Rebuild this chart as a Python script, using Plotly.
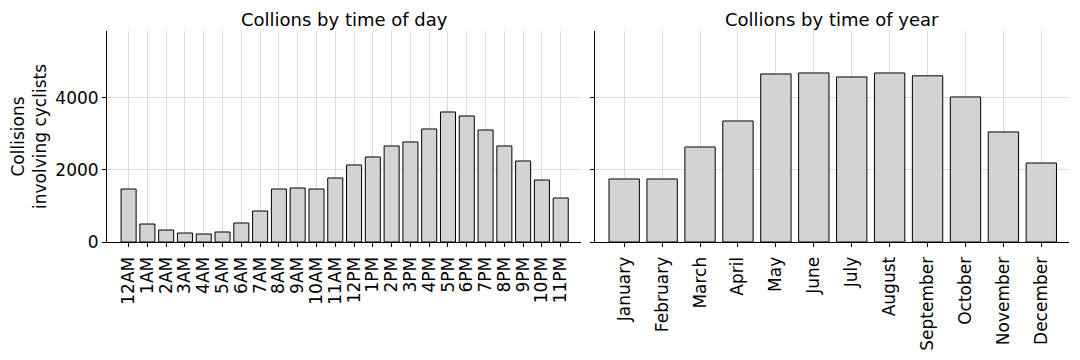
import plotly.graph_objects as go

hours = ["12AM", "1AM", "2AM", "3AM", "4AM", "5AM", "6AM", "7AM", "8AM", "9AM", "10AM", "11AM",
         "12PM", "1PM", "2PM", "3PM", "4PM", "5PM", "6PM", "7PM", "8PM", "9PM", "10PM", "11PM"]
hour_counts = [1472, 500, 333, 250, 222, 278, 528, 861, 1472, 1500, 1472, 1778,
               2139, 2361, 2667, 2778, 3139, 3611, 3500, 3111, 2667, 2250, 1722, 1222]

months = ["January", "February", "March", "April", "May", "June", "July", "August",
          "September", "October", "November", "December"]
month_counts = [1750, 1750, 2639, 3361, 4667, 4694, 4583, 4694, 4615, 4028, 3056, 2194]

y_ticks = [0, 2000, 4000]
y_max = 5860

W, H = 1080, 360
FONT = "DejaVu Sans"
bar_style = dict(marker=dict(color="#d3d3d3", line=dict(color="black", width=1)), width=0.8,
                 showlegend=False)

fig = go.Figure()
fig.add_trace(go.Bar(x=hours, y=hour_counts, xaxis="x", yaxis="y", **bar_style))
fig.add_trace(go.Bar(x=months, y=month_counts, xaxis="x2", yaxis="y2", **bar_style))

ydom = [(H - 242) / H, (H - 31) / H]
xdom1 = [107 / W, 581 / W]
xdom2 = [595 / W, 1069 / W]

common_x = dict(type="category", tickangle=-90, showgrid=True, gridcolor="#dcdcdc", gridwidth=0.8,
                ticks="outside", ticklen=4, tickcolor="black", showline=True, linecolor="black",
                linewidth=1, tickfont=dict(family=FONT, size=17, color="black"), zeroline=False,
                dtick=1, tickmode="linear", automargin=False, ticklabelstandoff=3)
common_y = dict(range=[0, y_max], tickmode="array", tickvals=y_ticks, showgrid=True,
                gridcolor="#dcdcdc", gridwidth=0.8,
                ticks="outside", ticklen=4, tickcolor="black", showline=True, linecolor="black",
                linewidth=1, zeroline=False, tickfont=dict(family=FONT, size=17, color="black"),
                automargin=False)

fig.update_layout(
    width=W, height=H,
    margin=dict(l=0, r=0, t=0, b=0),
    paper_bgcolor="white", plot_bgcolor="white",
    bargap=0.2,
    font=dict(family=FONT, color="black"),
    xaxis=dict(domain=xdom1, anchor="y", range=[-1.15, 24.08], **common_x),
    xaxis2=dict(domain=xdom2, anchor="y2", range=[-0.77, 11.73], **common_x),
    yaxis=dict(domain=ydom, anchor="x", ticktext=[str(v) for v in y_ticks],
               title=dict(text="Collisions<br>involving cyclists", font=dict(family=FONT, size=17),
                          standoff=4), **common_y),
    yaxis2=dict(domain=ydom, anchor="x2", showticklabels=False, **common_y),
    annotations=[
        dict(text="Collions by time of day", x=(xdom1[0] + xdom1[1]) / 2, y=1 - 19 / H,
             xref="paper", yref="paper", showarrow=False, font=dict(family=FONT, size=18),
             xanchor="center", yanchor="middle"),
        dict(text="Collions by time of year", x=(xdom2[0] + xdom2[1]) / 2, y=1 - 19 / H,
             xref="paper", yref="paper", showarrow=False, font=dict(family=FONT, size=18),
             xanchor="center", yanchor="middle"),
    ],
)

fig.write_html("out.html", config={"displayModeBar": False},
               post_script="document.body.style.margin='0';")
